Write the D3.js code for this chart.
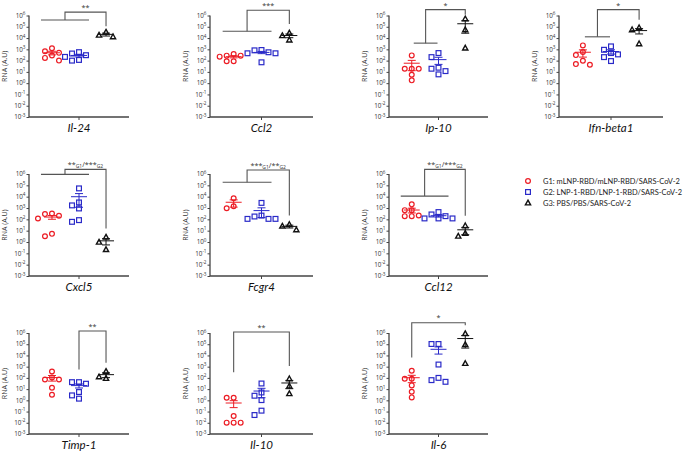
<!DOCTYPE html>
<html><head><meta charset="utf-8">
<script src="https://cdn.jsdelivr.net/npm/d3@7"></script>
<style>body{margin:0;background:#fff}svg{display:block}</style>
</head><body><svg id="c" width="685" height="451"></svg>
<script>
// ---------------- data ----------------
const genes = ["Il-24","Ccl2","Ip-10","Ifn-beta1","Cxcl5","Fcgr4","Ccl12","Timp-1","Il-10","Il-6"];
const groups = ["G1","G2","G3"];
const groupLabels = ["G1: mLNP-RBD/mLNP-RBD/SARS-CoV-2","G2: LNP-1-RBD/LNP-1-RBD/SARS-CoV-2","G3: PBS/PBS/SARS-CoV-2"];
const yTickExponents = [-3,-2,-1,0,1,2,3,4,5,6];
const yLabel = "RNA (A.U)";
// log10 of RNA (A.U) per animal
const g1Log10 = [
  [3.1,2.83,2.69,2.45,2.24,2.0],
  [2.59,2.44,2.44,2.35,1.94,1.94],
  [2.46,1.28,1.28,1.28,0.75,0.25],
  [3.35,2.76,2.49,1.99,1.69,1.63],
  [2.52,2.46,2.31,2.08,0.72,0.51],
  [3.86,3.16,2.98],
  [3.32,2.81,2.81,2.34,2.28,2.28],
  [2.57,2.04,1.86,1.86,1.12,0.5],
  [0.23,0.23,-1.4,-1.99,-1.99,-1.99],
  [2.63,1.92,1.92,1.33,0.76,0.26]
];
const g2Log10 = [
  [2.75,2.63,2.48,2.33,2.06,2.0],
  [2.94,2.91,2.74,2.65,2.65,1.85],
  [2.67,2.31,1.37,1.28,1.07,0.78],
  [3.26,2.96,2.67,2.55,2.31,1.96],
  [4.73,3.49,3.23,2.96,1.93,1.78],
  [3.45,2.33,2.25,2.04,2.04,2.04],
  [2.64,2.43,2.28,2.08,2.08,2.08],
  [1.62,1.62,1.48,0.74,0.44,0.15],
  [1.5,0.7,0.41,0.02,-0.92,-1.31],
  [5.02,5.02,3.19,2.0,1.8,1.65]
];
const g3Log10 = [
  [4.52,4.25,4.11],
  [4.44,4.21,3.82],
  [5.7,4.73,3.11],
  [4.91,4.73,3.49],
  [0.42,-0.02,-0.67],
  [1.54,1.4,1.07],
  [1.43,0.75,0.51],
  [2.57,2.09,1.95],
  [1.92,1.27,0.59],
  [5.94,4.96,3.28]
];
// significance annotations
const sigLabels = [
  [["**",0]],[["***",0]],[["*",0]],[["*",0]],
  [["**",0],["G1",1],["/***",0],["G2",1]],
  [["***",0],["G1",1],["/**",0],["G2",1]],
  [["**",0],["G1",1],["/***",0],["G2",1]],
  [["**",0]],[["**",0]],[["*",0]]
];
// bracket heights as log10 levels: [start/lower line, top, end at G3]
const sigLevels = [
  [5.6,6.3,5.05],[4.6,6.47,5.24],[3.55,6.52,6.06],[4.11,6.52,5.62],
  [5.97,6.41,1.19],[5.27,6.35,2.33],[4.05,6.41,2.31],
  [2.75,6.18,3.34],[2.5,6.09,3.07],[3.81,6.92,6.68]
];
// bracket type: pooled G1+G2 line ("wide"/"narrow") or start group index
const sigType = ["wide","wide","narrow","narrow","wide","wide","wide",1,0,0];

// ---------------- layout ----------------
const colX = [29,210,389,559], colW = [100,103,99,104];
const rowTop = [15.5,174,333], rowBot = [117,276,434];
const cells = [[0,0],[0,1],[0,2],[0,3],[1,0],[1,1],[1,2],[2,0],[2,1],[2,2]];
const colors = ["#ec1c24","#2a2ac8","#111111"];
const svg = d3.select("#c");
const FONT = "'Open Sans', sans-serif";

function marker(sel, gi){
  if(gi===0) sel.append("circle").attr("r",2.4).attr("fill","none").attr("stroke",colors[0]).attr("stroke-width",1.2);
  else if(gi===1) sel.append("rect").attr("x",-2.4).attr("y",-2.4).attr("width",4.8).attr("height",4.8).attr("fill","none").attr("stroke",colors[1]).attr("stroke-width",1.2);
  else sel.append("path").attr("d","M0,-2.8L2.6,1.9L-2.6,1.9Z").attr("fill","none").attr("stroke",colors[2]).attr("stroke-width",1.4).attr("stroke-linejoin","miter");
}

genes.forEach((gene, gIdx) => {
  const [r,c] = cells[gIdx];
  const x0 = colX[c], w = colW[c], top = rowTop[r], bot = rowBot[r];
  const y = d3.scaleLog().domain([1e-3,1e6]).range([bot, top]);
  const x = d3.scalePoint().domain(groups).range([x0, x0+w]).padding(0.85);
  const g = svg.append("g");

  // y axis
  const ya = d3.axisLeft(y).tickValues(yTickExponents.map(e=>Math.pow(10,e))).tickSize(2.5).tickFormat("");
  const yg = g.append("g").attr("transform",`translate(${x0},0)`).call(ya);
  yg.select(".domain").attr("stroke","#444").attr("stroke-width",1.3).attr("d",`M0,${top}V${bot}`);
  yg.selectAll(".tick line").attr("stroke","#444").attr("stroke-width",1);
  yTickExponents.forEach(e => {
    const t = g.append("text").attr("x", x0-3.5).attr("y", y(Math.pow(10,e))+2.2)
      .attr("text-anchor","end").attr("font-family",FONT).attr("font-size",6.3).attr("fill","#333");
    t.append("tspan").text("10");
    t.append("tspan").attr("dy",-2.6).attr("font-size",4.6).text(e);
  });
  // x axis
  g.append("line").attr("x1",x0).attr("x2",x0+w).attr("y1",bot).attr("y2",bot).attr("stroke","#444").attr("stroke-width",1.3);
  g.append("line").attr("x1",x0+w/2).attr("x2",x0+w/2).attr("y1",bot).attr("y2",bot+3).attr("stroke","#444").attr("stroke-width",1);
  // labels
  g.append("text").attr("x",x0+w/2).attr("y",bot+15).attr("text-anchor","middle")
    .attr("font-family","Lato, sans-serif").attr("font-style","italic").attr("font-size",11.5).attr("fill","#111").text(gene);
  g.append("text").attr("transform",`translate(${x0-22.5},${(top+bot)/2}) rotate(-90)`).attr("text-anchor","middle")
    .attr("font-family",FONT).attr("font-size",7).attr("fill","#333").text(yLabel);

  // points
  [g1Log10, g2Log10, g3Log10].forEach((arr, gi) => {
    const vals = arr[gIdx].map(v => Math.pow(10, v));
    const cx = x(groups[gi]);
    const placed = [];
    const slots = [0,-1,1,-2,2,-3,3];
    const sorted = vals.slice().sort((a,b)=>b-a);
    sorted.forEach(v => {
      const py = y(v);
      let s = slots.find(sl => !placed.some(p => p.s===sl && Math.abs(p.y-py) < 5.5));
      placed.push({s, y:py});
      const m = g.append("g").attr("transform",`translate(${cx + s*7},${py})`);
      marker(m, gi);
    });
    // mean and SEM
    const mean = d3.mean(vals), sem = vals.length>1 ? d3.deviation(vals)/Math.sqrt(vals.length) : 0;
    const hi = mean+sem, lo = Math.max(mean-sem, 1e-3);
    const col = colors[gi];
    g.append("line").attr("x1",cx-8).attr("x2",cx+8).attr("y1",y(mean)).attr("y2",y(mean)).attr("stroke",col).attr("stroke-width",1);
    g.append("line").attr("x1",cx).attr("x2",cx).attr("y1",y(hi)).attr("y2",y(lo)).attr("stroke",col).attr("stroke-width",1);
    g.append("line").attr("x1",cx-4).attr("x2",cx+4).attr("y1",y(hi)).attr("y2",y(hi)).attr("stroke",col).attr("stroke-width",1);
    g.append("line").attr("x1",cx-4).attr("x2",cx+4).attr("y1",y(lo)).attr("y2",y(lo)).attr("stroke",col).attr("stroke-width",1);
  });

  // significance bracket
  const [l0,lt,l3] = sigLevels[gIdx].map(e => y(Math.pow(10,e)));
  const type = sigType[gIdx];
  const g3x = x("G3");
  let vx;
  const bc = "#555";
  if (type === "wide" || type === "narrow") {
    const xa = type==="wide" ? x("G1")-11 : x("G1")+2;
    const xb = type==="wide" ? x("G2")+10 : x("G2")-1;
    g.append("line").attr("x1",xa).attr("x2",xb).attr("y1",l0).attr("y2",l0).attr("stroke",bc).attr("stroke-width",1.1);
    vx = (xa+xb)/2;
  } else {
    vx = x(groups[type]);
  }
  g.append("path").attr("d",`M${vx},${l0}V${lt}H${g3x}V${l3}`).attr("fill","none").attr("stroke",bc).attr("stroke-width",1.1);
  const st = g.append("text").attr("x",(vx+g3x)/2).attr("y",Math.max(lt-2.2, 8)).attr("text-anchor","middle")
    .attr("font-family",FONT).attr("font-size",7.2).attr("fill","#333");
  let sub = false;
  sigLabels[gIdx].forEach(([txt,isSub]) => {
    const ts = st.append("tspan").text(txt);
    if (isSub && !sub) { ts.attr("dy",1.2).attr("font-size",5); sub = true; }
    else if (!isSub && sub) { ts.attr("dy",-1.2); sub = false; }
  });
});

// legend
const legendTexts = [];
groupLabels.forEach((lab, gi) => {
  const ly = 181 + gi*11;
  const m = svg.append("g").attr("transform",`translate(528,${ly})`);
  marker(m, gi);
  legendTexts.push(svg.append("text").attr("x",543).attr("y",ly+3).attr("font-family","Lato, sans-serif").attr("font-size",8.6).attr("fill","#222").text(lab));
});
// fit the legend width to the space available at the right edge
const maxW = d3.max(legendTexts, t => t.node().getComputedTextLength());
const fs = Math.min(8.6, 8.6 * 139 / maxW);
legendTexts.forEach(t => t.attr("font-size", fs));
</script></body></html>
